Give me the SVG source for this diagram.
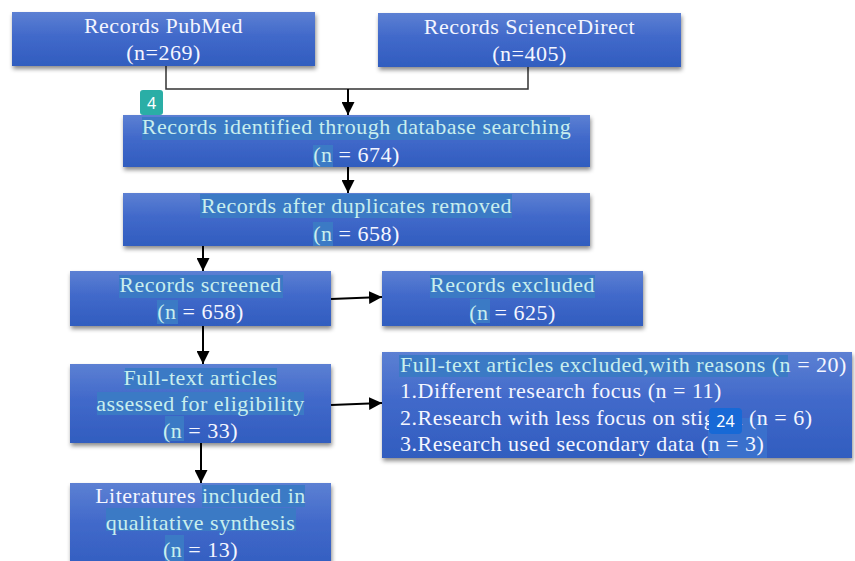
<svg xmlns="http://www.w3.org/2000/svg" width="855" height="561" viewBox="0 0 855 561">
<defs>
<linearGradient id="bg" x1="0" y1="0" x2="0" y2="1">
<stop offset="0" stop-color="#5c80d3"/>
<stop offset="0.45" stop-color="#4169ca"/>
<stop offset="1" stop-color="#315dbf"/>
</linearGradient>
<filter id="sh" x="-5%" y="-10%" width="115%" height="130%">
<feDropShadow dx="1" dy="3" stdDeviation="2" flood-color="#000" flood-opacity="0.45"/>
</filter>
<marker id="ah" markerUnits="userSpaceOnUse" markerWidth="13" markerHeight="13" refX="13" refY="6.5" orient="auto" viewBox="0 0 13 13"><path d="M0,0 L13,6.5 L0,13 z" fill="#000"/></marker>
</defs>
<style>
.box{fill:url(#bg);filter:url(#sh);}
.t{font-family:"Liberation Serif","Times New Roman",serif;font-size:22px;fill:#f4f6ff;letter-spacing:0.5px;}
.c{text-anchor:middle;}
.hl{fill:#3b7ac5;}
.cy{fill:#c8eeee;}
.ln{stroke:#000;stroke-width:2;fill:none;marker-end:url(#ah);}
.thin{stroke:#333;stroke-width:1.5;fill:none;}
.badge{font-family:"Noto Sans","DejaVu Sans",sans-serif;font-size:16px;fill:#fff;text-anchor:middle;}
</style>
<rect width="855" height="561" fill="#fff"/>
<g id="connectors">
<path class="thin" d="M166,66 V89 H528 V67"/>
<path class="ln" d="M348,89 V115"/>
<path class="ln" d="M348,167 V193"/>
<path class="ln" d="M203,246 V271"/>
<path class="ln" d="M331,299 L382,297"/>
<path class="ln" d="M203,326 V364"/>
<path class="ln" d="M331,405 L382,403"/>
<path class="ln" d="M201,443 V483"/>
</g>
<g id="pubmed">
<rect class="box" x="12" y="12" width="303" height="54"/>
<text class="t c" x="163.5" y="33">Records PubMed</text>
<text class="t c" x="163.5" y="60">(n=269)</text>
</g>
<g id="sciencedirect">
<rect class="box" x="378" y="13" width="303" height="54"/>
<text class="t c" x="529.5" y="34">Records ScienceDirect</text>
<text class="t c" x="529.5" y="61">(n=405)</text>
</g>
<g id="identified">
<rect class="box" x="123" y="115" width="467" height="52"/>
<rect class="hl" x="142" y="117" width="428" height="23"/>
<rect class="hl" x="313" y="145" width="20" height="22"/>
<text class="t c cy" x="356.5" y="134">Records identified through database searching</text>
<text class="t c" x="356.5" y="162"><tspan class="cy">(n</tspan> = 674)</text>
</g>
<g id="badge4">
<rect x="140" y="90" width="23" height="25" rx="3" fill="#2aaea6"/>
<text class="badge" x="151.5" y="108.5">4</text>
</g>
<g id="duplicates">
<rect class="box" x="123" y="193" width="467" height="53"/>
<rect class="hl" x="200" y="194" width="312" height="24"/>
<rect class="hl" x="313" y="222" width="20" height="24"/>
<text class="t c cy" x="356.5" y="213">Records after duplicates removed</text>
<text class="t c" x="356.5" y="241"><tspan class="cy">(n</tspan> = 658)</text>
</g>
<g id="screened">
<rect class="box" x="70" y="271" width="261" height="55"/>
<rect class="hl" x="119" y="275" width="164" height="23"/>
<rect class="hl" x="157" y="300" width="21" height="24"/>
<text class="t c cy" x="200.5" y="292">Records screened</text>
<text class="t c" x="200.5" y="319"><tspan class="cy">(n</tspan> = 658)</text>
</g>
<g id="excluded">
<rect class="box" x="382" y="271" width="261" height="55"/>
<rect class="hl" x="430" y="275" width="165" height="23"/>
<rect class="hl" x="470" y="299" width="20" height="24"/>
<text class="t c cy" x="512.5" y="292">Records excluded</text>
<text class="t c" x="512.5" y="320"><tspan class="cy">(n</tspan> = 625)</text>
</g>
<g id="assessed">
<rect class="box" x="70" y="364" width="261" height="79"/>
<rect class="hl" x="125" y="368" width="152" height="21"/>
<rect class="hl" x="97" y="392" width="207" height="23"/>
<rect class="hl" x="165" y="416" width="19" height="25"/>
<text class="t c cy" x="200.5" y="385">Full-text articles</text>
<text class="t c cy" x="200.5" y="411">assessed for eligibility</text>
<text class="t c" x="200.5" y="438"><tspan class="cy">(n</tspan> = 33)</text>
</g>
<g id="fulltext-excluded">
<rect class="box" x="382" y="352" width="470" height="106"/>
<rect class="hl" x="399" y="355" width="389" height="22"/>
<rect x="708" y="418" width="59" height="40" fill="#3a70cc"/>
<text class="t" x="400" y="372"><tspan class="cy">Full-text articles excluded,with reasons (n</tspan> = 20)</text>
<text class="t" x="400" y="398">1.Different research focus (n = 11)</text>
<text class="t" x="400" y="425">2.Research with less focus on stigma (n = 6)</text>
<text class="t" x="400" y="451">3.Research used secondary data (n = 3)</text>
</g>
<g id="badge24">
<rect x="709" y="408" width="33" height="26" rx="4" fill="#1769d6"/>
<text class="badge" x="725.5" y="427">24</text>
</g>
<g id="included">
<rect class="box" x="70" y="483" width="261" height="90"/>
<rect class="hl" x="202" y="485" width="103" height="22"/>
<rect class="hl" x="106" y="508" width="190" height="23"/>
<rect class="hl" x="165" y="535" width="19" height="26"/>
<text class="t c" x="200.5" y="503">Literatures <tspan class="cy">included in</tspan></text>
<text class="t c cy" x="200.5" y="530">qualitative synthesis</text>
<text class="t c" x="200.5" y="557"><tspan class="cy">(n</tspan> = 13)</text>
</g>
</svg>
